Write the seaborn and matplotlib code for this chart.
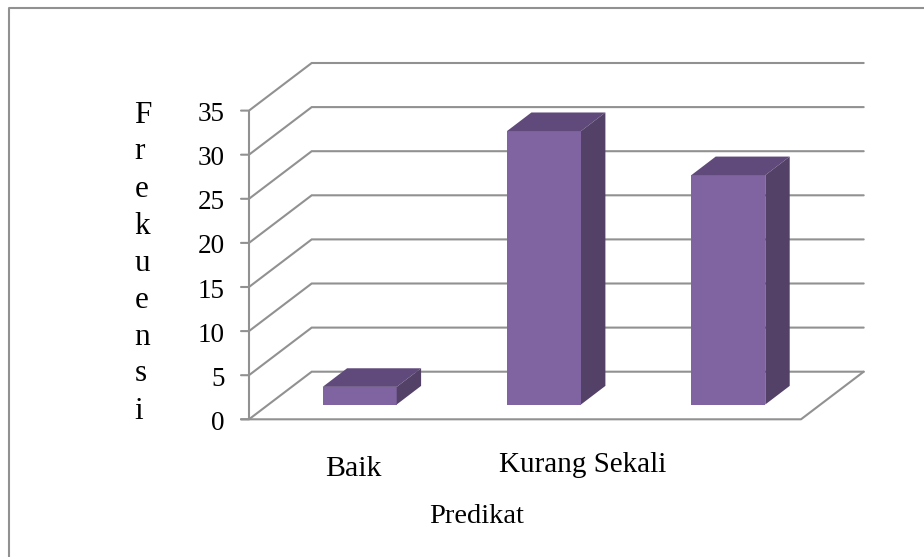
# Frekuensi per predikat - 3D style column chart redrawn with seaborn
import matplotlib
matplotlib.use('Agg')
import matplotlib.pyplot as plt
import seaborn as sns

categories = ['Baik', 'Kurang Sekali', 'Cukup']
values = [2, 31, 26]
shown_labels = ['Baik', 'Kurang Sekali']
y_ticks = [0, 5, 10, 15, 20, 25, 30, 35]
y_title = 'Frekuensi'
x_title = 'Predikat'

# picture geometry, in pixels
W, H = 924, 557
CAT_PX = 184.3   # distance between bars
UNIT_PX = 8.82   # height of one frequency unit
BAR0_X = 359.7   # centre of first bar
BAR0_Y = 404.5   # foot of the bars

sns.set_theme(style='white')
plt.rcParams['font.family'] = ['Liberation Serif', 'DejaVu Serif']

GRID = '#919191'
FRONT = '#8064a2'
TOP = '#604a7b'
SIDE = '#544167'


def dx(px):
    return (px - BAR0_X) / CAT_PX


def dy(py):
    return (BAR0_Y - py) / UNIT_PX


fig = plt.figure(figsize=(W / 100, H / 100), dpi=100, facecolor='white')
ax = fig.add_axes([0, 0, 1, 1])

# front faces come from seaborn
sns.barplot(x=categories, y=values, color=FRONT, saturation=1, width=74 / CAT_PX,
            linewidth=0, ax=ax, zorder=3)

ax.set_xlim(dx(0), dx(W))
ax.set_ylim(dy(H), dy(0))
ax.axis('off')

# depth of each bar, in data units
depth_x = 24.4 / CAT_PX
depth_y = 18.6 / UNIT_PX
half = 37 / CAT_PX
for i, v in enumerate(values):
    ax.fill([i - half, i + half, i + half + depth_x, i - half + depth_x],
            [v, v, v + depth_y, v + depth_y], color=TOP, lw=0, zorder=3)
    ax.fill([i + half, i + half + depth_x, i + half + depth_x, i + half],
            [0, depth_y, v + depth_y, v], color=SIDE, lw=0, zorder=3)

# back wall and side wall lines
for t in y_ticks:
    front_y = dy(419.3) + t
    back_y = dy(371.7) + t
    ax.plot([dx(241), dx(249), dx(311.7), dx(863.7)], [front_y, front_y, back_y, back_y],
            color=GRID, lw=1.5, zorder=1, solid_joinstyle='miter')
    ax.text(dx(224.5), front_y - 10.5 / UNIT_PX, str(t), ha='right', va='baseline',
            fontsize=19.5, color='black')

# floor and vertical axis
ax.plot([dx(249), dx(249)], [dy(419.3), dy(419.3) + 35], color=GRID, lw=1.5, zorder=1)
ax.plot([dx(241), dx(801), dx(863.7)], [dy(419.3), dy(419.3), dy(371.7)], color=GRID, lw=1.5, zorder=1)

# outer frame, only left and top are inside the crop
ax.plot([dx(9.3), dx(9.3), dx(W)], [dy(H), dy(8), dy(8)], color=GRID, lw=1.5, zorder=1)

# axis texts
ax.text(dx(353), dy(476.5), shown_labels[0], ha='center', va='baseline', fontsize=21.5, color='black')
ax.text(dx(583), dy(471.7), shown_labels[1], ha='center', va='baseline', fontsize=21, color='black')
ax.text(dx(477), dy(522.7), x_title, ha='center', va='baseline', fontsize=20.5, color='black')

letter_y = [123, 159, 197, 234, 271, 308, 345, 381, 419]
for ch, py in zip(y_title, letter_y):
    ax.text(dx(134.5), dy(py), ch, ha='left', va='baseline', fontsize=22.5, color='black')

fig.savefig('out.png', dpi=100)
